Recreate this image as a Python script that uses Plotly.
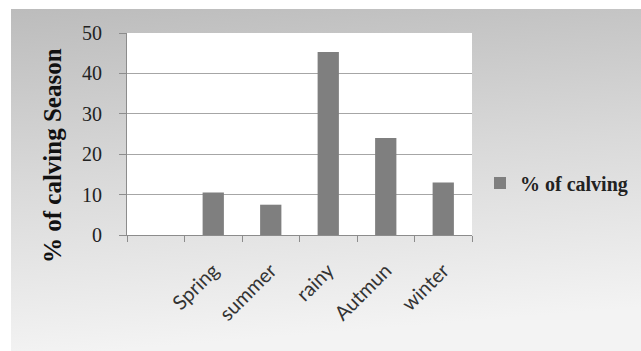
import plotly.graph_objects as go

categories = ["", "Spring", "summer", "rainy", "Autmun", "winter"]
values = [None, 10.5, 7.5, 45.3, 24.0, 13.0]
series_name = "% of calving"
y_title = "% of calving Season"
y_ticks = [0, 10, 20, 30, 40, 50]

W, H = 641, 351
L, R, T, B = 127, 169, 33, 116
pw, ph = W - L - R, H - T - B

def px_to_paper_x(px):
    return (px - L) / pw

def px_to_paper_y(py):
    return (H - B - py) / ph

grad_svg = (
    "data:image/svg+xml;utf8,"
    "<svg xmlns='http://www.w3.org/2000/svg' width='630' height='342' preserveAspectRatio='none'>"
    "<defs><linearGradient id='g' x1='0' y1='0' x2='0.15' y2='1'>"
    "<stop offset='0' stop-color='%23bcbcbc'/>"
    "<stop offset='0.5' stop-color='%23d9d9d9'/>"
    "<stop offset='1' stop-color='%23f3f3f3'/>"
    "</linearGradient></defs>"
    "<rect width='630' height='342' fill='url(%23g)'/></svg>"
)

fig = go.Figure()
fig.add_trace(go.Bar(
    x=categories, y=values, name=series_name,
    marker=dict(color="#7f7f7f", line=dict(width=0)),
    width=0.37, showlegend=True,
))

x0p, x1p = px_to_paper_x(11), px_to_paper_x(641)
y0p, y1p = px_to_paper_y(9), px_to_paper_y(351)

fig.update_layout(
    width=W, height=H,
    margin=dict(l=L, r=R, t=T, b=B, autoexpand=False),
    paper_bgcolor="white",
    plot_bgcolor="white",
    images=[dict(
        source=grad_svg, xref="paper", yref="paper",
        x=x0p, y=y0p, sizex=x1p - x0p, sizey=y0p - y1p,
        xanchor="left", yanchor="top", sizing="stretch", layer="below",
    )],
    shapes=[dict(
        type="rect", xref="paper", yref="paper", x0=0, x1=1, y0=0, y1=1,
        fillcolor="white", line=dict(width=0), layer="below",
    )],
    xaxis=dict(
        type="category", tickangle=-45, tickson="boundaries",
        ticks="outside", ticklen=6, tickcolor="#8c8c8c",
        showline=True, linecolor="#8c8c8c", linewidth=1,
        showgrid=False, range=[-0.5, 5.5],
        tickfont=dict(family="Lato, sans-serif", size=20, color="#333333"),
        ticklabelstandoff=15,
    ),
    yaxis=dict(
        range=[0, 50], tickvals=y_ticks,
        ticks="outside", ticklen=7, tickcolor="#8c8c8c",
        showline=True, linecolor="#8c8c8c", linewidth=1,
        showgrid=True, gridcolor="#a6a6a6", gridwidth=1,
        zeroline=False,
        tickfont=dict(family="Liberation Serif, serif", size=20, color="#222222"),
        ticklabelstandoff=13,
    ),
    legend=dict(
        x=px_to_paper_x(480), y=px_to_paper_y(183), yanchor="middle", xanchor="left",
        bgcolor="rgba(0,0,0,0)",
        font=dict(family="Liberation Serif, serif", size=20, color="#222222", weight="bold"),
    ),
    annotations=[dict(
        text="<b>" + y_title + "</b>", xref="paper", yref="paper",
        x=px_to_paper_x(52), y=px_to_paper_y(156), xanchor="center", yanchor="middle",
        textangle=-90, showarrow=False,
        font=dict(family="Liberation Serif, serif", size=25, color="#111111"),
    )],
    bargap=0.63,
)

fig.write_html("out.html")
